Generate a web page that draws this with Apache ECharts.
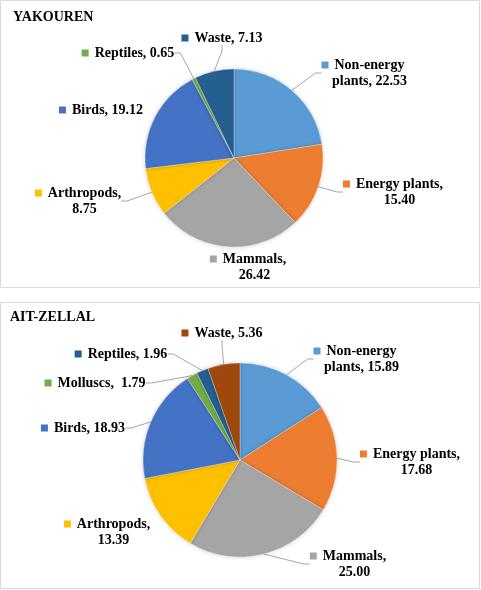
<!DOCTYPE html>
<html>
<head>
<meta charset="utf-8">
<script src="https://cdn.jsdelivr.net/npm/echarts@6/dist/echarts.min.js"></script>
<style>
html, body { margin: 0; padding: 0; background: #fff; }
#chartDiv { width: 481px; height: 590px; }
</style>
</head>
<body>
<div id="chartDiv"></div>
<script>
// data
var yakNames = ['Non-energy plants', 'Energy plants', 'Mammals', 'Arthropods', 'Birds', 'Reptiles', 'Waste'];
var yakValues = [22.53, 15.40, 26.42, 8.75, 19.12, 0.65, 7.13];
var aitNames = ['Non-energy plants', 'Energy plants', 'Mammals', 'Arthropods', 'Birds', 'Molluscs', 'Reptiles', 'Waste'];
var aitValues = [15.89, 17.68, 25.00, 13.39, 18.93, 1.79, 1.96, 5.36];

var yakColors = ['#5B9BD5', '#ED7D31', '#A5A5A5', '#FFC000', '#4472C4', '#70AD47', '#255E91'];
var aitColors = ['#5B9BD5', '#ED7D31', '#A5A5A5', '#FFC000', '#4472C4', '#70AD47', '#255E91', '#9E480E'];

// label lines as in the picture (line breaks)
var yakLabels = [['Non-energy', 'plants, 22.53'], ['Energy plants,', '15.40'], ['Mammals,', '26.42'],
    ['Arthropods,', '8.75'], ['Birds, 19.12'], ['Reptiles, 0.65'], ['Waste, 7.13']];
var aitLabels = [['Non-energy', 'plants, 15.89'], ['Energy plants,', '17.68'], ['Mammals,', '25.00'],
    ['Arthropods,', '13.39'], ['Birds, 18.93'], ['Molluscs,  1.79'], ['Reptiles, 1.96'], ['Waste, 5.36']];

// where each label block sits (centre)
var labelPos = [
    [[363, 73], [393, 192], [248, 267], [78, 201], [101, 110], [128, 53], [222, 38]],
    [[355, 359], [410, 462], [348, 564], [107, 532], [83, 428], [95, 383], [121, 354], [222, 333]]
];
var noLine = [['Birds', 'Mammals'], ['Arthropods']];

var myChart = echarts.init(document.getElementById('chartDiv'));

function buildRich(colors) {
    var rich = {
        t: { fontFamily: 'Liberation Serif', fontWeight: 'bold', fontSize: 14, color: '#000', lineHeight: 16 },
        sp: { width: 13, height: 7 }
    };
    for (var i = 0; i < colors.length; i++) {
        rich['c' + i] = { width: 7, height: 7, backgroundColor: colors[i] };
        rich['g' + i] = { width: 6, height: 7 };
    }
    return rich;
}

function buildData(names, values, labels, colors, hide) {
    var arr = [];
    for (var i = 0; i < names.length; i++) {
        var lines = labels[i];
        var txt = '{c' + i + '|}{g' + i + '|}{t|' + lines[0] + '}';
        if (lines.length > 1) {
            txt += '\n{sp|}{t|' + lines[1] + '}';
        }
        arr.push({
            name: names[i],
            value: values[i],
            itemStyle: { color: colors[i] },
            label: { formatter: txt },
            labelLine: { show: hide.indexOf(names[i]) < 0 }
        });
    }
    return arr;
}

function pieSeries(idx, names, values, labels, colors, center, radius) {
    return {
        type: 'pie',
        center: center,
        radius: radius,
        startAngle: 90,
        clockwise: true,
        avoidLabelOverlap: false,
        animation: false,
        itemStyle: {
            borderColor: 'rgba(255,255,255,0.6)',
            borderWidth: 0.5,
            shadowBlur: 4,
            shadowColor: 'rgba(0,0,0,0.18)'
        },
        label: {
            show: true,
            position: 'outside',
            align: 'center',
            rich: buildRich(colors)
        },
        labelLine: {
            show: true,
            length: 10,
            length2: 6,
            lineStyle: { color: '#A6A6A6', width: 1 }
        },
        labelLayout: function (params) {
            var p = labelPos[idx][params.dataIndex];
            return { x: p[0], y: p[1], align: 'center', verticalAlign: 'middle' };
        },
        emphasis: { disabled: true },
        data: buildData(names, values, labels, colors, noLine[idx])
    };
}

var titleStyle = { fontFamily: 'Liberation Serif', fontWeight: 'bold', fontSize: 14, color: '#000' };

var option = {
    backgroundColor: '#fff',
    title: [{
        text: 'YAKOUREN',
        left: 13, top: 10, padding: 0,
        textStyle: titleStyle
    }, {
        text: 'AIT-ZELLAL',
        left: 10, top: 310, padding: 0,
        textStyle: titleStyle
    }],
    graphic: [{
        type: 'rect',
        shape: { x: 0.5, y: 0.5, width: 479, height: 287 },
        style: { fill: 'none', stroke: '#D9D9D9', lineWidth: 1 },
        silent: true
    }, {
        type: 'rect',
        shape: { x: 0.5, y: 302.5, width: 479, height: 286 },
        style: { fill: 'none', stroke: '#D9D9D9', lineWidth: 1 },
        silent: true
    }],
    series: [
        pieSeries(0, yakNames, yakValues, yakLabels, yakColors, [234, 158], 89),
        pieSeries(1, aitNames, aitValues, aitLabels, aitColors, [240, 460], 97)
    ]
};

myChart.setOption(option);
</script>
</body>
</html>
